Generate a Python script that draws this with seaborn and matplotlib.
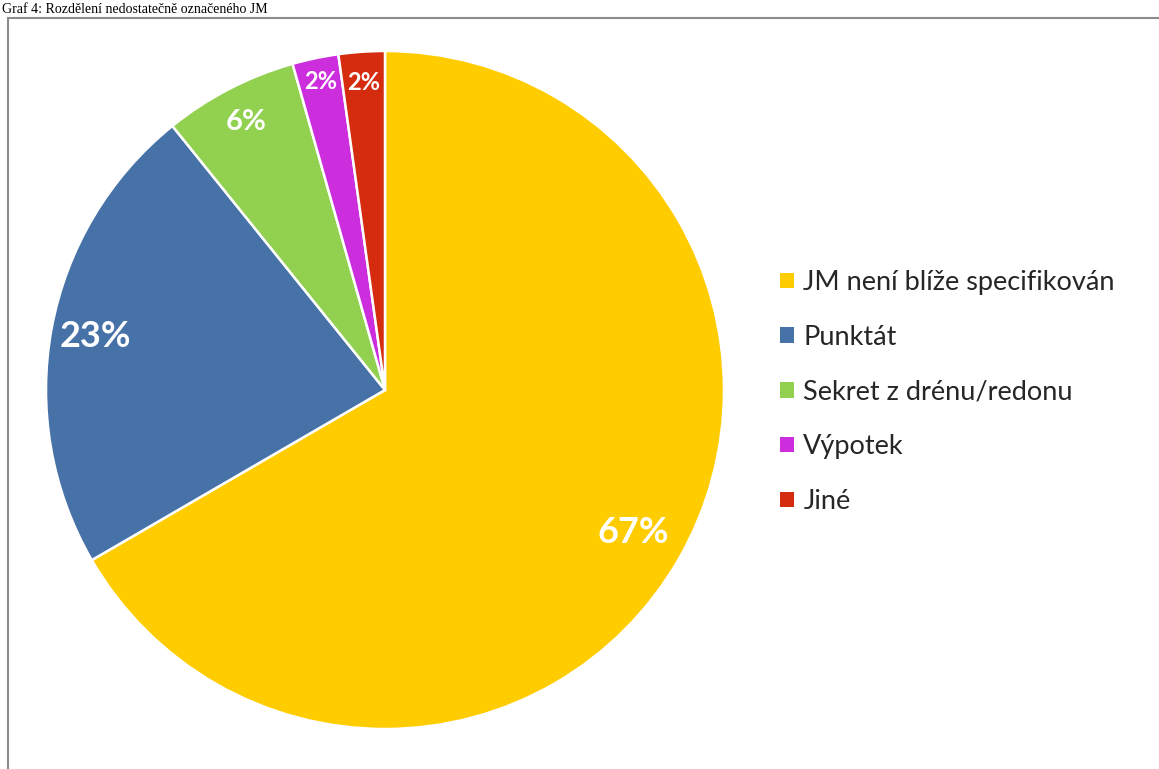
import numpy as np
import matplotlib
matplotlib.use("Agg")
import matplotlib.pyplot as plt
from matplotlib.patches import Rectangle
import seaborn as sns

categories = ["JM není blíže specifikován", "Punktát", "Sekret z drénu/redonu", "Výpotek", "Jiné"]
shares = [66.7, 22.6, 6.4, 2.2, 2.2]
colors = ["#FFCC00", "#4672A8", "#92D050", "#CC2EDE", "#D52B0E"]
title = "Graf 4: Rozdělení nedostatečně označeného JM"

sns.set_theme(style="white")
plt.rcParams['font.family'] = ['Lato', 'DejaVu Sans']

W, H = 1159, 769
fig = plt.figure(figsize=(W / 100, H / 100), dpi=100)

# gray outer frame (runs off right and bottom edge like the clipped source)
fig.patches.append(Rectangle((8 / W, -0.05), 1.2, 1 - 18 / H + 0.05, transform=fig.transFigure,
                             fill=False, edgecolor="#8c8c8c", linewidth=1.5))

# caption above the frame
fig.text(2 / W, 1 - 13 / H, title, family="Liberation Serif",
         fontsize=10, va="baseline", ha="left", color="black")

# pie axes: centre (385, 390) px, radius 339 px
R = 339
ax = fig.add_axes([(385 - R) / W, (H - 390 - R) / H, 2 * R / W, 2 * R / H])
wedges, _ = ax.pie(shares, colors=colors, startangle=90, counterclock=False,
                   wedgeprops=dict(edgecolor="white", linewidth=1.8))
ax.set_xlim(-1, 1)
ax.set_ylim(-1, 1)
ax.set_aspect("equal")
ax.axis("off")

# percentage labels (best-fit style distances)
label_dist = [0.845, 0.87, 0.89, 0.93, 0.91]
label_size = [26, 26, 21, 17, 17]
for w, v, d, s in zip(wedges, shares, label_dist, label_size):
    ang = np.deg2rad((w.theta1 + w.theta2) / 2)
    ax.text(d * np.cos(ang), d * np.sin(ang), f"{v:.0f}%", ha="center", va="center",
            color="white", fontsize=s, fontweight="bold")

handles = [Rectangle((0, 0), 1, 1, facecolor=c, edgecolor="none") for c in colors]
fig.legend(handles, categories, loc="center left", bbox_to_anchor=(756 / W, 1 - 392 / H),
           frameon=False, fontsize=19.5, handlelength=0.5, handleheight=0.5,
           handletextpad=0.35, labelspacing=1.1)

fig.savefig("out.png", dpi=100)
